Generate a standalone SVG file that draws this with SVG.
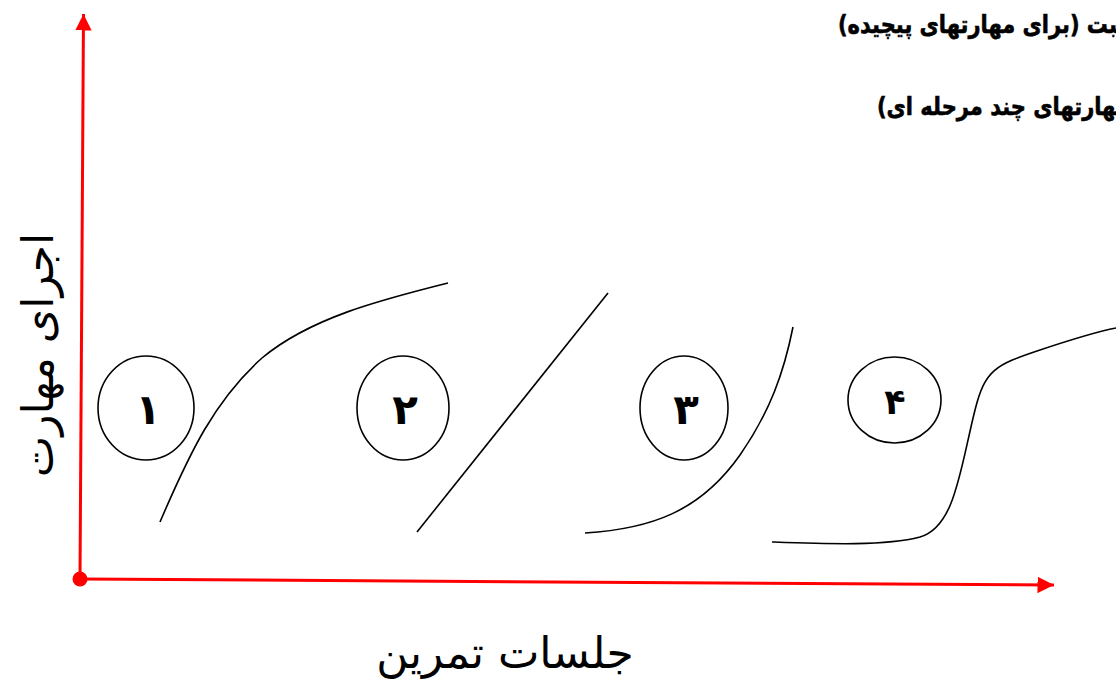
<svg xmlns="http://www.w3.org/2000/svg" width="1116" height="680" viewBox="0 0 1116 680">
<style>
.ax{stroke:#ff0000;stroke-width:3;fill:none}
.cv{stroke:#000;stroke-width:1.6;fill:none}
.nd{stroke:#000;stroke-width:1.6;fill:#fff}
.dg{font-family:"DejaVu Sans",sans-serif;font-weight:bold;font-size:42px;fill:#000;text-anchor:middle}
.lb{font-family:"DejaVu Sans",sans-serif;fill:#000}
.tt{font-family:"DejaVu Sans",sans-serif;font-weight:bold;font-size:21px;fill:#000;stroke:#000;stroke-width:0.5}
</style>
<defs>
<marker id="ar" viewBox="0 0 10 10" refX="10" refY="5" markerWidth="5.5" markerHeight="5.5" orient="auto" markerUnits="strokeWidth">
<path d="M0,0 L10,5 L0,10 z" fill="#ff0000"/>
</marker>
</defs>
<g id="axes">
<path class="ax" d="M80,579 L83.5,14" marker-end="url(#ar)"/>
<path class="ax" d="M80,579 L1054,585" marker-end="url(#ar)"/>
<circle cx="80" cy="579" r="7.5" fill="#ff0000"/>
</g>
<g id="connectors">
<path class="cv" d="M160,522 C190,452 215,400 262,358 C310,318 380,300 448,283"/>
<path class="cv" d="M417,532 L608,293"/>
<path class="cv" d="M585,533 C650,529 700,512 740,455 C770,412 784,372 793,327"/>
<path class="cv" d="M772,542 C830,544 885,546 920,537 C955,527 960,470 975,410 C985,370 995,365 1040,350 C1070,340 1095,332 1116,328"/>
</g>
<g id="n1"><ellipse class="nd" cx="146" cy="408" rx="48" ry="52"/><text class="dg" x="148" y="424">۱</text></g>
<g id="n2"><ellipse class="nd" cx="403" cy="408" rx="46" ry="52"/><text class="dg" x="405" y="424">۲</text></g>
<g id="n3"><ellipse class="nd" cx="684" cy="408" rx="44" ry="52"/><text class="dg" x="686" y="424">۳</text></g>
<g id="n4"><ellipse class="nd" cx="894.5" cy="400" rx="46.5" ry="43"/><text class="dg" x="895" y="414" style="font-size:35px">۴</text></g>
<g id="ylabel"><text class="lb" font-size="44" direction="rtl" text-anchor="middle" transform="translate(53,355) rotate(-90)">اجرای مهارت</text></g>
<g id="xlabel"><text class="lb" font-size="44" direction="rtl" text-anchor="middle" x="505" y="668">جلسات تمرین</text></g>
<g id="title1"><text class="tt" direction="rtl" text-anchor="end" transform="translate(838,33) scale(1,1.2)">مثبت (برای مهارتهای پیچیده)</text></g>
<g id="title2"><text class="tt" direction="rtl" text-anchor="end" transform="translate(877,115) scale(1,1.2)">(برای مهارتهای چند مرحله ای)</text></g>
</svg>
